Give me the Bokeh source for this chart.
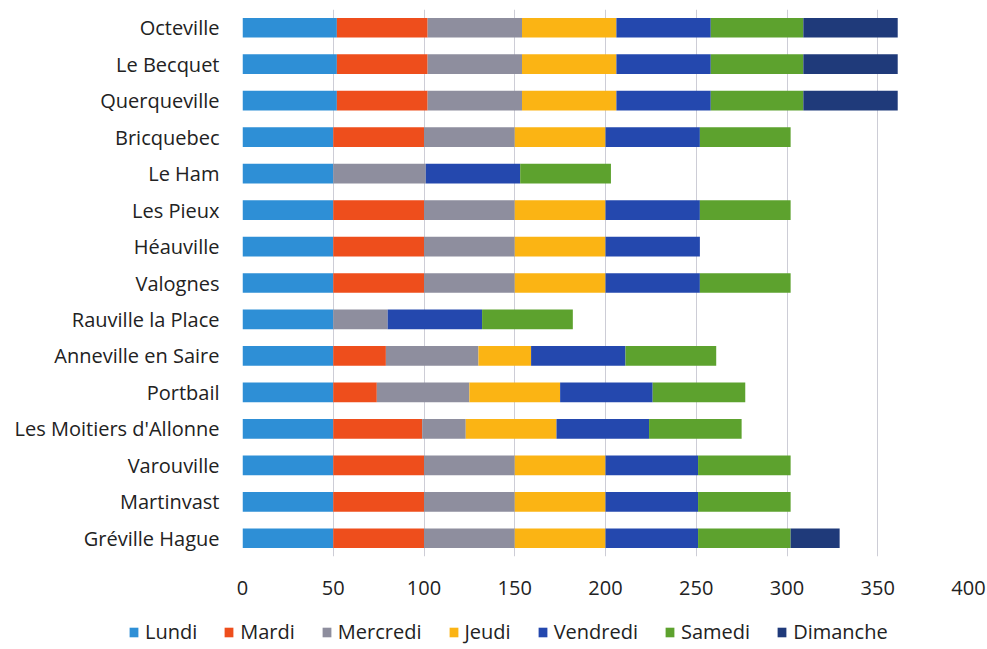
from bokeh.plotting import figure
from bokeh.layouts import column, row
from bokeh.models import Legend, LegendItem, ColumnDataSource, FactorRange, Range1d, FixedTicker
from bokeh.embed import file_html
from bokeh.resources import INLINE

communes = ["Octeville", "Le Becquet", "Querqueville", "Bricquebec", "Le Ham", "Les Pieux",
            "Héauville", "Valognes", "Rauville la Place", "Anneville en Saire", "Portbail",
            "Les Moitiers d'Allonne", "Varouville", "Martinvast", "Gréville Hague"]
jours = ["Lundi", "Mardi", "Mercredi", "Jeudi", "Vendredi", "Samedi", "Dimanche"]
lundi    = [52, 52, 52, 50, 50, 50, 50, 50, 50, 50, 50, 50, 50, 50, 50]
mardi    = [50, 50, 50, 50, 0, 50, 50, 50, 0, 29, 24, 49, 50, 50, 50]
mercredi = [52, 52, 52, 50, 51, 50, 50, 50, 30, 51, 51, 24, 50, 50, 50]
jeudi    = [52, 52, 52, 50, 0, 50, 50, 50, 0, 29, 50, 50, 50, 50, 50]
vendredi = [52, 52, 52, 52, 52, 52, 52, 52, 52, 52, 51, 51, 51, 51, 51]
samedi   = [51, 51, 51, 50, 50, 50, 0, 50, 50, 50, 51, 51, 51, 51, 51]
dimanche = [52, 52, 52, 0, 0, 0, 0, 0, 0, 0, 0, 0, 0, 0, 27]
x_ticks = [0, 50, 100, 150, 200, 250, 300, 350, 400]

colors = ["#2E8FD6", "#EE4E1C", "#8E8E9E", "#FBB414", "#2448AE", "#5DA22E", "#1F3A7A"]
FONT = "Open Sans"
FS = "20px"
TXT = "#222222"

data = dict(commune=communes, Lundi=lundi, Mardi=mardi, Mercredi=mercredi, Jeudi=jeudi,
            Vendredi=vendredi, Samedi=samedi, Dimanche=dimanche)
src = ColumnDataSource(data)

p = figure(width=987, height=605, output_backend="svg", toolbar_location=None,
           y_range=FactorRange(*list(reversed(communes))), x_range=Range1d(0, 400))
p.min_border_left = 242
p.min_border_right = 19
p.min_border_top = 9
p.min_border_bottom = 49
p.outline_line_color = None

p.hbar_stack(jours, y="commune", height=0.54, color=colors, source=src, line_color=None)

p.xaxis.ticker = FixedTicker(ticks=x_ticks)
p.xaxis.axis_line_color = None
p.xaxis.major_tick_line_color = None
p.xaxis.minor_tick_line_color = None
p.xaxis.major_label_standoff = 18
p.xaxis.major_label_text_font = FONT
p.xaxis.major_label_text_font_size = FS
p.xaxis.major_label_text_color = TXT

p.yaxis.axis_line_color = None
p.yaxis.major_tick_line_color = None
p.yaxis.minor_tick_line_color = None
p.yaxis.major_label_standoff = 17
p.yaxis.major_label_text_font = FONT
p.yaxis.major_label_text_font_size = FS
p.yaxis.major_label_text_color = TXT

p.ygrid.grid_line_color = None
p.xgrid.grid_line_color = "#CDCDD6"
p.xgrid.grid_line_width = 1

# legend-only strip below the chart (its swatches sit outside the visible range)
lg = figure(width=987, height=44, output_backend="svg", toolbar_location=None,
            x_range=Range1d(0, 1), y_range=Range1d(0, 1), min_border=0)
lg.axis.visible = False
lg.grid.visible = False
lg.outline_line_color = None
swatch = ColumnDataSource(dict(y=[5], left=[0], right=[0]))
items = []
for j, c in zip(jours, colors):
    r = lg.hbar(y="y", left="left", right="right", height=0.5, color=c, line_color=None,
                source=swatch)
    items.append(LegendItem(label=j, renderers=[r]))
legend = Legend(items=items, orientation="horizontal", location=(128, 4),
                glyph_width=11, glyph_height=12, label_standoff=6, spacing=26,
                label_text_font=FONT, label_text_font_size=FS,
                label_text_color=TXT, border_line_color=None,
                background_fill_alpha=0, padding=0, margin=0)
lg.add_layout(legend, "center")

layout = column(p, row(lg), spacing=0)
open("out.html", "w").write(file_html(layout, INLINE))
